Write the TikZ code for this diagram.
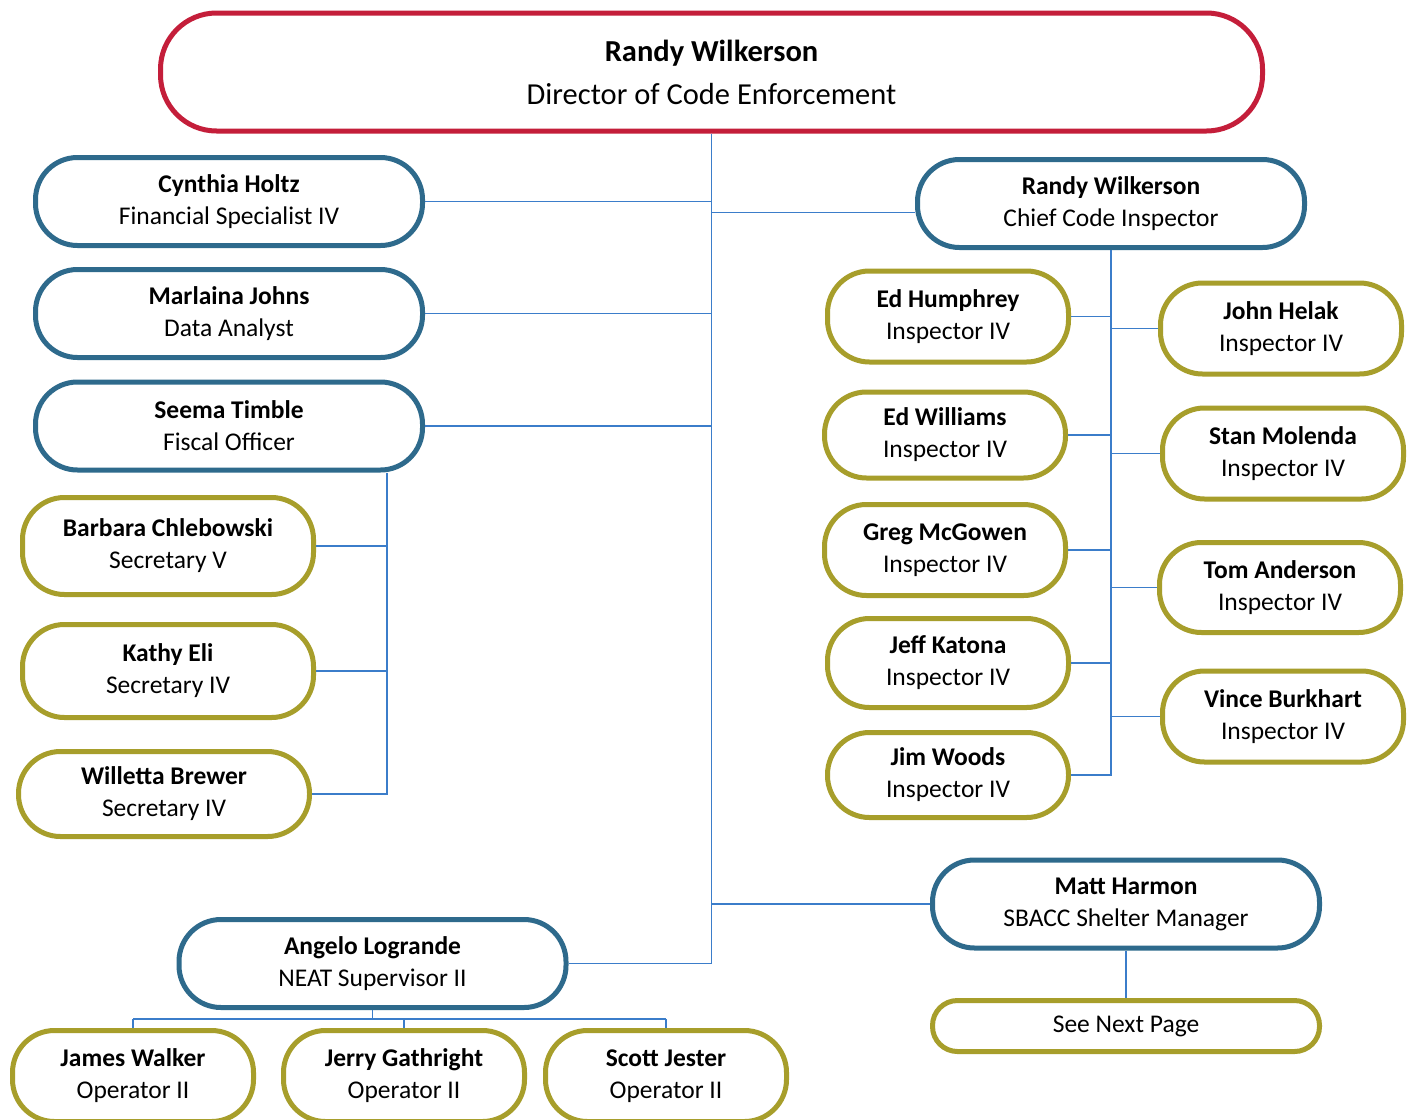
\documentclass[tikz,border=0pt]{standalone}
\usepackage{fontspec}
\setmainfont{Carlito}
\definecolor{redb}{HTML}{C41E3A}
\definecolor{blueb}{HTML}{2E6A8C}
\definecolor{oliveb}{HTML}{A79E2B}
\definecolor{connc}{HTML}{3B7DCA}
\begin{document}
\begin{tikzpicture}[x=1pt,y=-1pt,
  box/.style={draw, line width=5pt, fill=white, rounded corners=42pt, align=center, inner sep=0pt,
    font=\fontsize{25.5}{32}\selectfont},
  bluebox/.style={box, draw=blueb, minimum width=387pt, minimum height=88pt},
  olivebox/.style={box, draw=oliveb, minimum width=291pt, minimum height=94pt},
  inspbox/.style={box, draw=oliveb, minimum width=241pt, minimum height=91pt},
  conn/.style={draw=connc, line width=1.8pt}]
\fill[white] (0,0) rectangle (1418,1119);
\clip (0,0) rectangle (1418,1119);
% top
\node[box, draw=redb, rounded corners=56pt, minimum width=1102pt, minimum height=118pt,
  font=\fontsize{30.5}{43}\selectfont] (top) at (711.5,72) {\textbf{Randy Wilkerson}\\Director of Code Enforcement};
% left blue
\node[bluebox] (cynthia) at (229,201.5) {\textbf{Cynthia Holtz}\\Financial Specialist IV};
\node[bluebox] (marlaina) at (229,313.5) {\textbf{Marlaina Johns}\\Data Analyst};
\node[bluebox] (seema) at (229,426) {\textbf{Seema Timble}\\Fiscal Officer};
% secretaries
\node[olivebox, minimum height=97pt] (barbara) at (168,546) {\textbf{Barbara Chlebowski}\\Secretary V};
\node[olivebox, minimum height=93pt] (kathy) at (168,671) {\textbf{Kathy Eli}\\Secretary IV};
\node[olivebox, minimum height=85pt] (willetta) at (164,794) {\textbf{Willetta Brewer}\\Secretary IV};
% chief
\node[bluebox] (chief) at (1111,203.5) {\textbf{Randy Wilkerson}\\Chief Code Inspector};
% inspectors left
\node[inspbox] (humphrey) at (948,316.5) {\textbf{Ed Humphrey}\\Inspector IV};
\node[inspbox, minimum height=86pt] (williams) at (945,435) {\textbf{Ed Williams}\\Inspector IV};
\node[inspbox] (mcgowen) at (945,550) {\textbf{Greg McGowen}\\Inspector IV};
\node[inspbox, minimum height=89pt] (katona) at (948,663) {\textbf{Jeff Katona}\\Inspector IV};
\node[inspbox, minimum height=85pt] (woods) at (948,775) {\textbf{Jim Woods}\\Inspector IV};
% inspectors right
\node[inspbox] (helak) at (1281,328.5) {\textbf{John Helak}\\Inspector IV};
\node[inspbox] (molenda) at (1283,453.5) {\textbf{Stan Molenda}\\Inspector IV};
\node[inspbox, minimum height=90pt] (anderson) at (1280,587.5) {\textbf{Tom Anderson}\\Inspector IV};
\node[inspbox] (burkhart) at (1283,716.5) {\textbf{Vince Burkhart}\\Inspector IV};
% Matt Harmon
\node[bluebox] (matt) at (1126,904) {\textbf{Matt Harmon}\\SBACC Shelter Manager};
\node[box, draw=oliveb, rounded corners=25pt, minimum width=387pt, minimum height=51pt] (next) at (1126,1026) {See Next Page};
% Angelo
\node[bluebox] (angelo) at (372.5,963.5) {\textbf{Angelo Logrande}\\NEAT Supervisor II};
\node[inspbox] (james) at (133,1076) {\textbf{James Walker}\\Operator II};
\node[inspbox] (jerry) at (404,1076) {\textbf{Jerry Gathright}\\Operator II};
\node[inspbox] (scott) at (666,1076) {\textbf{Scott Jester}\\Operator II};

% coordinates
\coordinate (trunkbot) at (top.south |- angelo.east);
\coordinate (sv) at ([xshift=158pt]seema.south);
\coordinate (cv) at (chief.south);
\coordinate (cvb) at (cv |- woods.east);
\coordinate (abus) at ([yshift=-9pt]angelo.south);
\coordinate (chiefin) at ([yshift=-9pt]chief.west);

% connectors
\draw[conn] (top.south) -- (trunkbot) -- (angelo.east);
\draw[conn] (cynthia.east) -- (cynthia.east -| top.south);
\draw[conn] (marlaina.east) -- (marlaina.east -| top.south);
\draw[conn] (seema.east) -- (seema.east -| top.south);
\draw[conn] (chiefin) -- (chiefin -| top.south);
\draw[conn] (matt.west) -- (matt.west -| top.south);
\draw[conn] (sv) -- (sv |- willetta.east) -- (willetta.east);
\draw[conn] (barbara.east) -- (barbara.east -| sv);
\draw[conn] (kathy.east) -- (kathy.east -| sv);
\draw[conn] (cv) -- (cvb) -- (woods.east);
\foreach \n in {humphrey,williams,mcgowen,katona}
  \draw[conn] (\n.east -| cv) -- (\n.east);
\foreach \n in {helak,molenda,anderson,burkhart}
  \draw[conn] (\n.west -| cv) -- (\n.west);
\draw[conn] (matt.south) -- (next.north);
\draw[conn] (angelo.south) -- (abus);
\draw[conn] (james.north |- abus) -- (scott.north |- abus);
\foreach \n in {james,jerry,scott}
  \draw[conn] (\n.north |- abus) -- (\n.north);
\end{tikzpicture}
\end{document}
